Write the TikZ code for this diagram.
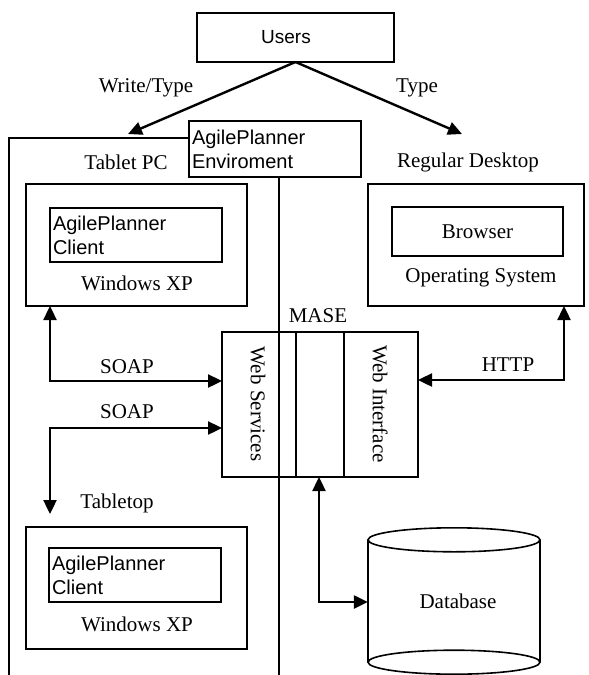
\documentclass[tikz,border=0pt]{standalone}
\usepackage{fontspec}
\setmainfont{Liberation Serif}
\setsansfont{Liberation Sans}
\usetikzlibrary{arrows.meta}
\begin{document}
\begin{tikzpicture}[x=1pt,y=-1pt,
  box/.style={draw, line width=1.6pt, inner sep=0pt, outer sep=0pt},
  frameline/.style={line width=1.3pt},
  arr/.style={line width=2.4pt, {Triangle[length=14pt,width=13pt]}-{Triangle[length=14pt,width=13pt]}},
  arrone/.style={line width=2.4pt, -{Triangle[length=14pt,width=13pt]}},
  rm/.style={font=\fontsize{21}{25}\selectfont, inner sep=0pt},
  sf/.style={font=\sffamily\fontsize{19}{24}\selectfont},
  sfb/.style={font=\sffamily\fontsize{20}{24}\selectfont},
  apbox/.style={box, sfb, align=left, text width=166pt, inner sep=3pt, minimum width=172pt}
]
\useasboundingbox (0,0) rectangle (589,675);

% Users
\node[box, minimum width=197pt, minimum height=49pt] (users) at (295.5,37.5) {};
\node[sf, inner sep=0pt] (userst) at (286,37) {Users};
\coordinate (tipL) at (128,134);
\coordinate (tipR) at (462,134);
\draw[arrone] (users.south) -- (tipL);
\draw[arrone] (users.south) -- (tipR);
\node[rm] (wt) at (146,88) {Write/Type};
\node[rm] (ty) at (417,88) {Type};

% AgilePlanner environment
\node[apbox, minimum height=56pt] (env) at (275,149) {AgilePlanner\\Enviroment};
\coordinate (fTop) at (9,138);
\coordinate (fBot) at (9,675);
\coordinate (vBot) at (279,675);
\draw[frameline] (fBot) -- (fTop) -- (fTop -| env.west);
\draw[frameline] (vBot |- env.south) -- (vBot);

\node[rm] (tpc) at (126,162) {Tablet PC};
\node[rm] (rd) at (468,162) {Regular Desktop};

% Tablet PC Windows XP
\node[box, minimum width=221pt, minimum height=122pt] (xp1) at (136.5,245) {};
\node[apbox, minimum height=54pt] (cl1) at (136,235) {AgilePlanner\\Client};
\node[rm] (xp1t) at (137,283) {Windows XP};

% Regular desktop
\node[box, minimum width=216pt, minimum height=122pt] (desk) at (476,245) {};
\node[box, rm, minimum width=171pt, minimum height=49pt] (browser) at (477.5,231.5) {Browser};
\node[rm] (os) at (481,278) {Operating System};

% MASE
\node[rm] (maset) at (318,316) {MASE};
\node[box, minimum width=196pt, minimum height=145pt] (mase) at (320,404.5) {};
\coordinate (d1) at (296,0);
\coordinate (d2) at (344,0);
\draw[box] (mase.north -| d1) -- (mase.south -| d1);
\draw[box] (mase.north -| d2) -- (mase.south -| d2);
\node[rm, rotate=-90] (ws) at (258,404) {Web Services};
\node[rm, rotate=-90] (wi) at (380,404) {Web Interface};

% Tabletop Windows XP
\node[rm] (tt) at (117,503) {Tabletop};
\node[box, minimum width=221pt, minimum height=122pt] (xp2) at (136.5,588) {};
\node[apbox, minimum height=54pt] (cl2) at (135,575) {AgilePlanner\\Client};
\node[rm] (xp2t) at (137,624) {Windows XP};

% Database
\node[minimum width=172pt, minimum height=122pt, inner sep=0pt] (db) at (454,601) {};
\draw[box] (db.north) ellipse [x radius=86pt, y radius=12pt];
\draw[box] (db.south) ellipse [x radius=86pt, y radius=12pt];
\draw[box] (db.north west) -- (db.south west);
\draw[box] (db.north east) -- (db.south east);
\node[rm] (dbt) at (458,601) {Database};

% SOAP connectors
\coordinate (s1) at (50,381);
\coordinate (s2) at (50,428);
\coordinate (t2) at (50,514);
\draw[arr] (xp1.south -| s1) -- (s1) -- (s1 -| mase.west);
\node[rm] (soap1) at (127,367) {SOAP};
\draw[arr] (s2 -| mase.west) -- (s2) -- (t2);
\node[rm] (soap2) at (127,412) {SOAP};

% HTTP
\coordinate (h) at (564,380);
\draw[arr] (mase.east |- h) -- (h) -- (h |- desk.south);
\node[rm] (http) at (508,365) {HTTP};

% Database connector
\coordinate (dd) at (319,602);
\draw[arr] (mase.south -| dd) -- (dd) -- (dd -| db.west);
\end{tikzpicture}
\end{document}
